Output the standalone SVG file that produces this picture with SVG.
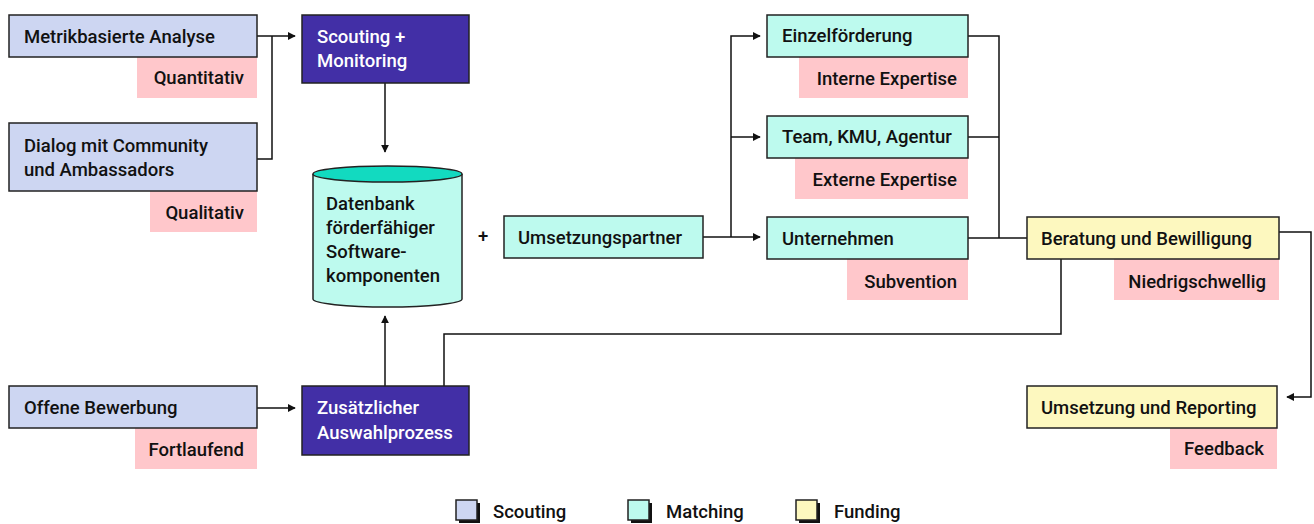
<svg xmlns="http://www.w3.org/2000/svg" width="1314" height="524" viewBox="0 0 1314 524">
<defs>
<style>
text{font-family:Roboto,"Liberation Sans",sans-serif;font-size:18.5px;font-weight:500;fill:#111}
.sc{fill:#cdd6f2;stroke:#222;stroke-width:1.5}
.ma{fill:#bdfaee;stroke:#222;stroke-width:1.5}
.fu{fill:#fdf8bf;stroke:#222;stroke-width:1.5}
.dk{fill:#422fa6;stroke:#222;stroke-width:1.5}
.pk{fill:#ffc7cb}
.w{fill:#fff}
.e{text-anchor:end}
.ln{fill:none;stroke:#111;stroke-width:1.5}
</style>
<marker id="ah" viewBox="0 0 10 10" refX="9" refY="5" markerWidth="8" markerHeight="8" markerUnits="userSpaceOnUse" orient="auto"><path d="M0,0L10,5L0,10z" fill="#111"/></marker>
</defs>
<rect width="1314" height="524" fill="#fff"/>
<g id="connectors">
<path class="ln" d="M257,36H295" marker-end="url(#ah)"/>
<path class="ln" d="M257,159H272V36"/>
<path class="ln" d="M385,83V152" marker-end="url(#ah)"/>
<path class="ln" d="M257,408H295" marker-end="url(#ah)"/>
<path class="ln" d="M385,386V316" marker-end="url(#ah)"/>
<path class="ln" d="M444,386V334H1061V259"/>
<path class="ln" d="M703,237H760" marker-end="url(#ah)"/>
<path class="ln" d="M731,237V36H760" marker-end="url(#ah)"/>
<path class="ln" d="M731,137H760" marker-end="url(#ah)"/>
<path class="ln" d="M968,36H999V238"/>
<path class="ln" d="M968,137H999"/>
<path class="ln" d="M968,238H1027"/>
<path class="ln" d="M1279,232H1311V397H1287" marker-end="url(#ah)"/>
</g>
<g id="metrik">
<rect class="pk" x="137" y="57" width="120" height="41"/>
<rect class="sc" x="9" y="15" width="248" height="42"/>
<text x="24" y="43">Metrikbasierte Analyse</text>
<text class="e" x="244" y="84">Quantitativ</text>
</g>
<g id="dialog">
<rect class="pk" x="150" y="191" width="107" height="41"/>
<rect class="sc" x="9" y="123" width="248" height="68"/>
<text x="24" y="152">Dialog mit Community</text>
<text x="24" y="176">und Ambassadors</text>
<text class="e" x="244" y="219">Qualitativ</text>
</g>
<g id="scouting">
<rect class="dk" x="302" y="15" width="167" height="68"/>
<text class="w" x="317" y="43">Scouting +</text>
<text class="w" x="317" y="67">Monitoring</text>
</g>
<g id="datenbank">
<path d="M313,174V299A74.5,8 0 0 0 462,299V174" fill="#bdfaee" stroke="#222" stroke-width="1.5"/>
<ellipse cx="387.5" cy="174" rx="74.5" ry="8" fill="#12dac0" stroke="#222" stroke-width="1.5"/>
<text x="326" y="210">Datenbank</text>
<text x="326" y="234">förderfähiger</text>
<text x="326" y="258">Software-</text>
<text x="326" y="282">komponenten</text>
</g>
<g id="plus"><text x="478" y="242">+</text></g>
<g id="umsetzungspartner">
<rect class="ma" x="504" y="216" width="199" height="42"/>
<text x="518" y="244">Umsetzungspartner</text>
</g>
<g id="einzel">
<rect class="pk" x="799" y="57" width="169" height="41"/>
<rect class="ma" x="767" y="15" width="201" height="42"/>
<text x="782" y="42">Einzelförderung</text>
<text class="e" x="957" y="85">Interne Expertise</text>
</g>
<g id="team">
<rect class="pk" x="795" y="158" width="173" height="41"/>
<rect class="ma" x="767" y="116" width="201" height="42"/>
<text x="782" y="143">Team, KMU, Agentur</text>
<text class="e" x="957" y="186">Externe Expertise</text>
</g>
<g id="unternehmen">
<rect class="pk" x="847" y="259" width="121" height="41"/>
<rect class="ma" x="767" y="217" width="201" height="42"/>
<text x="782" y="245">Unternehmen</text>
<text class="e" x="957" y="288">Subvention</text>
</g>
<g id="beratung">
<rect class="pk" x="1114" y="259" width="165" height="41"/>
<rect class="fu" x="1027" y="217" width="252" height="42"/>
<text x="1041" y="245">Beratung und Bewilligung</text>
<text class="e" x="1266" y="288">Niedrigschwellig</text>
</g>
<g id="offene">
<rect class="pk" x="135" y="428" width="122" height="41"/>
<rect class="sc" x="9" y="386" width="248" height="42"/>
<text x="24" y="414">Offene Bewerbung</text>
<text class="e" x="244" y="456">Fortlaufend</text>
</g>
<g id="auswahl">
<rect class="dk" x="302" y="386" width="167" height="69"/>
<text class="w" x="317" y="414">Zusätzlicher</text>
<text class="w" x="317" y="439">Auswahlprozess</text>
</g>
<g id="reporting">
<rect class="pk" x="1170" y="428" width="107" height="41"/>
<rect class="fu" x="1027" y="386" width="250" height="42"/>
<text x="1041" y="414">Umsetzung und Reporting</text>
<text class="e" x="1264" y="455">Feedback</text>
</g>
<g id="legend">
<rect x="459" y="503" width="21" height="20" fill="#111"/>
<rect class="sc" x="456" y="500" width="21" height="20"/>
<text x="493" y="518" font-size="16">Scouting</text>
<rect x="631" y="503" width="21" height="20" fill="#111"/>
<rect class="ma" x="628" y="500" width="21" height="20"/>
<text x="666" y="518" font-size="16">Matching</text>
<rect x="799" y="503" width="21" height="20" fill="#111"/>
<rect class="fu" x="796" y="500" width="21" height="20"/>
<text x="834" y="518" font-size="16">Funding</text>
</g>
</svg>
